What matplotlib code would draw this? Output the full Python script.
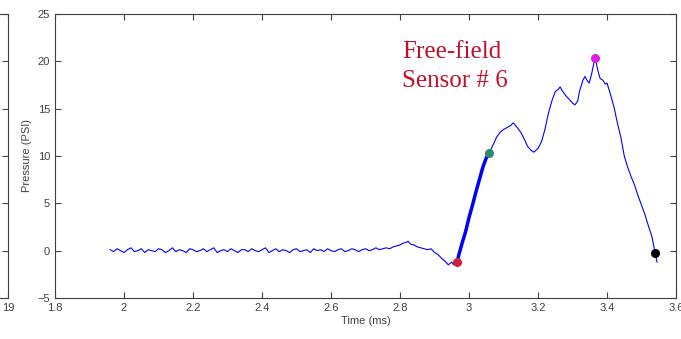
import matplotlib.pyplot as plt

# pressure trace, free-field sensor 6
time_ms = [
    1.96, 1.97, 1.98, 1.99, 2.00, 2.01, 2.02, 2.03, 2.04, 2.05,
    2.06, 2.07, 2.08, 2.09, 2.10, 2.11, 2.12, 2.13, 2.14, 2.15,
    2.16, 2.17, 2.18, 2.19, 2.20, 2.21, 2.22, 2.23, 2.24, 2.25,
    2.26, 2.27, 2.28, 2.29, 2.30, 2.31, 2.32, 2.33, 2.34, 2.35,
    2.36, 2.37, 2.38, 2.39, 2.40, 2.41, 2.42, 2.43, 2.44, 2.45,
    2.46, 2.47, 2.48, 2.49, 2.50, 2.51, 2.52, 2.53, 2.54, 2.55,
    2.56, 2.57, 2.58, 2.59, 2.60, 2.61, 2.62, 2.63, 2.64, 2.65,
    2.66, 2.67, 2.68, 2.69, 2.70, 2.71, 2.72, 2.73, 2.74,
    2.75, 2.76, 2.77, 2.78, 2.79, 2.80, 2.81, 2.82, 2.823, 2.83,
    2.84, 2.85, 2.86, 2.87, 2.88, 2.89, 2.90, 2.91, 2.92, 2.93,
    2.94, 2.95, 2.955, 2.96, 2.966,
    2.97, 2.98, 2.99, 3.00, 3.01, 3.02, 3.03, 3.04, 3.05, 3.058,
    3.07, 3.08, 3.09, 3.10, 3.11, 3.12, 3.128, 3.14, 3.15, 3.16,
    3.17, 3.18, 3.188, 3.20, 3.21, 3.22, 3.23, 3.24, 3.25, 3.26,
    3.264, 3.27, 3.28, 3.29, 3.30, 3.307, 3.315, 3.32, 3.33, 3.336,
    3.342, 3.348, 3.355, 3.36, 3.365, 3.37, 3.375, 3.38, 3.388, 3.395,
    3.40, 3.41, 3.42, 3.43, 3.44, 3.45, 3.46, 3.47, 3.48, 3.49,
    3.50, 3.51, 3.52, 3.53, 3.535, 3.539, 3.545,
]
pressure_psi = [
    0.1, -0.1, 0.2, 0.0, -0.2, 0.1, 0.3, -0.1, 0.0, 0.2,
    -0.2, 0.1, 0.0, -0.1, 0.2, 0.1, -0.2, 0.0, 0.3, -0.1,
    0.1, 0.0, -0.2, 0.2, 0.1, -0.1, 0.0, 0.2, -0.1, 0.1,
    0.3, -0.2, 0.0, 0.1, -0.1, 0.2, 0.0, -0.2, 0.1, 0.1,
    -0.1, 0.2, 0.0, -0.1, 0.1, 0.3, -0.2, 0.0, 0.2, -0.1,
    0.1, 0.0, -0.2, 0.1, 0.2, -0.1, 0.0, 0.1, -0.2, 0.2,
    0.0, 0.1, -0.1, 0.2, 0.0, -0.1, 0.1, 0.2, -0.1, 0.0,
    0.2, 0.1, -0.1, 0.1, 0.2, 0.0, 0.1, 0.3, 0.1,
    0.2, 0.3, 0.2, 0.4, 0.5, 0.6, 0.8, 0.9, 1.0, 0.7,
    0.6, 0.4, 0.3, 0.2, 0.1, 0.2, -0.2, -0.4, -0.8, -1.1,
    -1.5, -1.2, -1.5, -1.0, -1.2,
    -0.5, 0.8, 2.0, 3.5, 4.8, 6.2, 7.5, 8.8, 9.8, 10.3,
    11.2, 12.0, 12.5, 12.8, 13.0, 13.2, 13.5, 13.0, 12.5, 11.8,
    11.0, 10.6, 10.4, 10.8, 11.5, 12.8, 14.5, 15.8, 16.8, 17.1,
    17.3, 16.9, 16.4, 16.0, 15.6, 15.4, 15.8, 16.8, 18.0, 18.4,
    18.0, 17.7, 18.6, 19.5, 20.4, 19.6, 18.8, 18.2, 18.0, 17.6,
    17.7, 16.5, 15.2, 13.5, 12.0, 10.0, 8.8, 7.8, 6.9, 5.8,
    4.8, 3.8, 2.6, 1.5, 0.6, -0.2, -1.2,
]

# picked points on the trace
pick_t = [2.966, 3.058, 3.365, 3.539]
pick_p = [-1.2, 10.3, 20.4, -0.2]
pick_colors = ['#d0203c', '#2e8b6a', '#e020e0', '#000000']

xticks = [1.8, 2, 2.2, 2.4, 2.6, 2.8, 3, 3.2, 3.4, 3.6]
yticks = [-5, 0, 5, 10, 15, 20, 25]

plt.rcParams['font.family'] = ['Liberation Sans', 'DejaVu Sans']
tick_color = '#404040'

fig = plt.figure(figsize=(6.81, 3.39), dpi=100)

# edge of the neighbouring panel on the left
ax0 = fig.add_axes([-0.5, 0.121, 0.5117, 0.8377])
ax0.set_xlim(0, 1)
ax0.set_ylim(-5, 25)
ax0.set_xticks([1])
ax0.set_xticklabels(['19'])
ax0.set_yticks(yticks)
ax0.tick_params(direction='in', right=True, top=True, length=4,
                labelsize=8, colors=tick_color, labelleft=False)
ax0.spines[:].set_color('#404040')

ax = fig.add_axes([0.0808, 0.121, 0.9119, 0.8377])
ax.plot(time_ms, pressure_psi, color='#0000ff', lw=0.8)
# the rise between the first two picks is drawn thick (dense noisy samples)
i0 = time_ms.index(pick_t[0])
i1 = time_ms.index(pick_t[1])
ax.plot(time_ms[i0:i1 + 1], pressure_psi[i0:i1 + 1], color='#0000ff', lw=2.5)
for t, p, c in zip(pick_t, pick_p, pick_colors):
    ax.plot(t, p, 'o', color=c, ms=5.5)

ax.set_xlim(1.8, 3.6)
ax.set_ylim(-5, 25)
ax.set_xticks(xticks)
ax.set_xticklabels([f'{v:g}' for v in xticks])
ax.set_yticks(yticks)
ax.tick_params(direction='in', right=True, top=True, length=4,
               labelsize=8, colors=tick_color)
for s in ax.spines.values():
    s.set_color('#404040')
ax.set_xlabel('Time (ms)', fontsize=8, color=tick_color, labelpad=2)
ax.set_ylabel('Pressure (PSI)', fontsize=8, color=tick_color, labelpad=4)

ax.text(0.559, 0.905, 'Free-field\nSensor # 6', transform=ax.transAxes,
        family='Liberation Serif', fontsize=18, color='#c0102a',
        linespacing=1.4, va='top')

plt.savefig('out.png', dpi=100)
